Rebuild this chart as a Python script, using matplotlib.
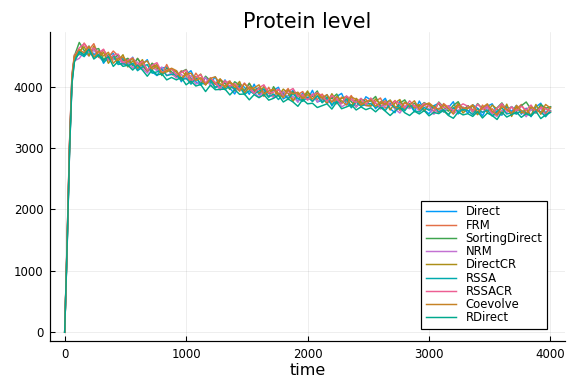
import numpy as np
import matplotlib
matplotlib.use("Agg")
import matplotlib.pyplot as plt

# time grid: quick rise, then every 40 time units
t_rise = [0, 20, 40, 60, 80]
t_main = list(range(120, 4001, 40))
time = np.array(t_rise + t_main)

methods = ["Direct", "FRM", "SortingDirect", "NRM", "DirectCR",
           "RSSA", "RSSACR", "Coevolve", "RDirect"]
colors = ["#009AFA", "#E36F47", "#3EA44E", "#C371D2", "#AC8E18",
          "#00AAAE", "#ED5E93", "#C68225", "#00A98D"]

direct = [0, 1450, 3050, 4150, 4480,
          4600, 4490, 4660, 4520, 4580, 4380, 4500, 4540, 4380, 4460,
          4360, 4480, 4280, 4360, 4440, 4240, 4180, 4300, 4320, 4200,
          4260, 4080, 4200, 4260, 4080, 4025, 4150, 4055, 4160, 3985,
          4110, 3975, 3880, 4045, 3990, 3875, 4040, 3870, 3960, 3890,
          3940, 3990, 3800, 3850, 3940, 3750, 3900, 3790, 3940, 3750,
          3780, 3870, 3685, 3840, 3890, 3720, 3675, 3790, 3680, 3835,
          3785, 3640, 3735, 3810, 3640, 3575, 3770, 3665, 3720, 3590,
          3765, 3620, 3555, 3690, 3730, 3585, 3660, 3755, 3555, 3650,
          3570, 3705, 3645, 3520, 3680, 3720, 3575, 3535, 3675, 3595,
          3695, 3550, 3650, 3510, 3670, 3730, 3570, 3670]
frm = [0, 1500, 3100, 4200, 4520,
       4520, 4710, 4600, 4700, 4500, 4600, 4480, 4580, 4500, 4380,
       4460, 4340, 4460, 4360, 4240, 4380, 4280, 4200, 4360, 4200,
       4160, 4260, 4180, 4060, 4220, 4105, 4030, 4135, 4040, 4125,
       4050, 4095, 3940, 4045, 3930, 4055, 3920, 3970, 3840, 3990,
       3840, 3950, 3880, 3970, 3780, 3870, 3920, 3790, 3860, 3790,
       3880, 3770, 3825, 3720, 3830, 3760, 3855, 3670, 3760, 3795,
       3685, 3760, 3815, 3650, 3700, 3775, 3610, 3745, 3660, 3690,
       3705, 3600, 3715, 3650, 3570, 3725, 3660, 3595, 3735, 3610,
       3690, 3625, 3545, 3700, 3600, 3640, 3555, 3715, 3615, 3575,
       3635, 3710, 3570, 3650, 3590, 3690, 3550, 3670]
sorting_direct = [0, 1400, 3000, 4100, 4500,
                  4720, 4590, 4520, 4600, 4620, 4440, 4520, 4440, 4520, 4420,
                  4460, 4340, 4460, 4340, 4260, 4380, 4320, 4180, 4300, 4240,
                  4160, 4240, 4280, 4120, 4160, 4045, 4170, 4095, 3980, 4105,
                  4050, 3955, 4080, 4025, 3930, 4055, 3920, 3990, 3920, 3830,
                  4000, 3870, 3920, 3790, 3920, 3850, 3780, 3910, 3840, 3930,
                  3740, 3830, 3805, 3880, 3730, 3840, 3755, 3670, 3800, 3755,
                  3765, 3840, 3675, 3730, 3780, 3635, 3730, 3785, 3660, 3730,
                  3665, 3740, 3695, 3590, 3750, 3665, 3600, 3695, 3755, 3610,
                  3690, 3585, 3725, 3640, 3700, 3560, 3655, 3735, 3615, 3675,
                  3595, 3690, 3750, 3630, 3570, 3710, 3650, 3670]
nrm = [0, 1350, 2950, 4050, 4420,
       4460, 4570, 4500, 4600, 4480, 4420, 4500, 4440, 4480, 4360,
       4400, 4300, 4400, 4300, 4220, 4320, 4260, 4320, 4180, 4220,
       4140, 4200, 4120, 4180, 4040, 4085, 4150, 4015, 4060, 3945,
       4010, 4075, 3920, 3985, 3910, 3995, 3900, 3830, 3940, 3890,
       3820, 3890, 3920, 3810, 3840, 3750, 3860, 3790, 3880, 3750,
       3820, 3730, 3765, 3820, 3670, 3720, 3815, 3670, 3740, 3690,
       3685, 3740, 3635, 3690, 3740, 3635, 3570, 3685, 3640, 3690,
       3605, 3700, 3635, 3550, 3650, 3605, 3660, 3555, 3615, 3670,
       3610, 3545, 3645, 3580, 3660, 3560, 3515, 3615, 3575, 3675,
       3555, 3610, 3510, 3630, 3570, 3650, 3530, 3590]
direct_cr = [0, 1420, 3020, 4120, 4470,
             4580, 4650, 4500, 4660, 4480, 4560, 4380, 4500, 4420, 4520,
             4320, 4420, 4340, 4440, 4260, 4320, 4360, 4220, 4240, 4280,
             4240, 4100, 4240, 4100, 4140, 4205, 4030, 4115, 4040, 4125,
             3970, 4075, 3980, 4085, 3890, 3995, 3960, 3890, 4000, 3890,
             3960, 3850, 3960, 3890, 3760, 3890, 3820, 3930, 3760, 3850,
             3820, 3730, 3885, 3760, 3810, 3840, 3675, 3810, 3740, 3695,
             3685, 3800, 3715, 3770, 3620, 3735, 3790, 3625, 3700, 3650,
             3705, 3600, 3715, 3650, 3730, 3605, 3540, 3655, 3695, 3570,
             3650, 3685, 3545, 3660, 3580, 3700, 3635, 3555, 3715, 3515,
             3675, 3570, 3630, 3530, 3710, 3550, 3650, 3590]
rssa = [0, 1380, 2980, 4080, 4440,
        4540, 4490, 4580, 4480, 4520, 4400, 4460, 4500, 4360, 4380,
        4340, 4380, 4260, 4320, 4360, 4220, 4240, 4280, 4180, 4200,
        4200, 4100, 4140, 4040, 4140, 4045, 4050, 4115, 3980, 4025,
        3950, 4015, 3960, 4005, 3870, 3935, 3880, 3930, 3960, 3830,
        3880, 3790, 3880, 3810, 3880, 3810, 3760, 3830, 3760, 3850,
        3740, 3810, 3705, 3760, 3730, 3800, 3655, 3750, 3680, 3715,
        3725, 3660, 3695, 3610, 3720, 3655, 3690, 3605, 3720, 3610,
        3585, 3660, 3615, 3690, 3590, 3625, 3540, 3655, 3595, 3630,
        3610, 3545, 3645, 3580, 3620, 3520, 3595, 3655, 3555, 3575,
        3555, 3610, 3570, 3530, 3630, 3590, 3510, 3610]
rssacr = [0, 1480, 3080, 4180, 4500,
          4630, 4700, 4570, 4630, 4550, 4610, 4430, 4510, 4530, 4390,
          4430, 4470, 4350, 4410, 4270, 4350, 4390, 4230, 4270, 4290,
          4190, 4230, 4270, 4090, 4150, 4195, 4060, 4145, 4070, 3975,
          4100, 4005, 4050, 3955, 4060, 3965, 3890, 3980, 4030, 3900,
          3910, 3960, 3850, 3920, 3970, 3840, 3870, 3780, 3870, 3900,
          3850, 3760, 3855, 3790, 3720, 3850, 3785, 3740, 3810, 3705,
          3815, 3730, 3665, 3760, 3690, 3765, 3720, 3655, 3770, 3680,
          3655, 3730, 3685, 3600, 3740, 3655, 3690, 3605, 3665, 3720,
          3680, 3595, 3715, 3630, 3690, 3570, 3645, 3725, 3605, 3665,
          3605, 3680, 3620, 3700, 3580, 3660, 3640, 3600]
coevolve = [0, 1460, 3060, 4160, 4490,
            4600, 4550, 4660, 4480, 4580, 4500, 4560, 4380, 4460, 4480,
            4400, 4460, 4300, 4380, 4420, 4280, 4340, 4220, 4260, 4300,
            4260, 4140, 4200, 4220, 4100, 4145, 4030, 4135, 4160, 4045,
            4010, 4075, 4020, 3925, 4050, 3955, 3980, 4030, 3880, 3930,
            3960, 3890, 3820, 3950, 3880, 3910, 3800, 3870, 3800, 3890,
            3820, 3870, 3745, 3840, 3770, 3700, 3835, 3790, 3700, 3755,
            3785, 3680, 3755, 3710, 3780, 3675, 3630, 3745, 3700, 3770,
            3625, 3700, 3735, 3670, 3630, 3705, 3640, 3555, 3715, 3650,
            3650, 3705, 3585, 3660, 3720, 3600, 3535, 3675, 3635, 3555,
            3695, 3610, 3550, 3670, 3630, 3570, 3710, 3650]
rdirect = [0, 1400, 2950, 4050, 4400,
           4570, 4520, 4610, 4450, 4510, 4430, 4490, 4330, 4410, 4330,
           4350, 4270, 4350, 4270, 4170, 4270, 4190, 4210, 4110, 4150,
           4110, 4150, 4030, 4090, 4010, 4035, 3920, 4025, 3950, 3955,
           3960, 3865, 3950, 3875, 3880, 3785, 3870, 3820, 3870, 3780,
           3810, 3860, 3750, 3800, 3750, 3680, 3790, 3720, 3730, 3660,
           3690, 3720, 3635, 3750, 3640, 3670, 3705, 3620, 3670, 3625,
           3655, 3590, 3665, 3600, 3530, 3605, 3660, 3575, 3530, 3600,
           3555, 3610, 3525, 3580, 3560, 3615, 3530, 3485, 3585, 3540,
           3560, 3515, 3595, 3490, 3570, 3530, 3465, 3585, 3505, 3545,
           3585, 3500, 3560, 3520, 3600, 3480, 3540, 3580]

series = [direct, frm, sorting_direct, nrm, direct_cr,
          rssa, rssacr, coevolve, rdirect]

fig = plt.figure(figsize=(6, 4), dpi=96)
ax = fig.add_axes([0.087, 0.112, 0.894, 0.805])

for name, col, vals in zip(methods, colors, series):
    ax.plot(time, vals, color=col, linewidth=1.1, label=name)

ax.set_xlim(-120, 4120)
ax.set_ylim(-142, 4892)
ax.set_xticks([0, 1000, 2000, 3000, 4000])
ax.set_yticks([0, 1000, 2000, 3000, 4000])
ax.grid(True, color="black", alpha=0.1, linewidth=0.5)
ax.tick_params(direction="in", labelsize=8.8, length=4, width=0.8, pad=5)
for side in ["top", "right"]:
    ax.spines[side].set_visible(False)
for side in ["left", "bottom"]:
    ax.spines[side].set_linewidth(0.9)

ax.set_title("Protein level", fontsize=15.5, pad=2.5)
ax.set_xlabel("time", fontsize=12, labelpad=1.5)

leg = ax.legend(loc="lower right", bbox_to_anchor=(0.965, 0.039),
                borderaxespad=0, fontsize=8.7, fancybox=False,
                handlelength=2.6, labelspacing=0.02, borderpad=0.4)
leg.get_frame().set_edgecolor("black")
leg.get_frame().set_linewidth(0.9)
leg.get_frame().set_alpha(1)

fig.savefig("out.png", dpi=96)
